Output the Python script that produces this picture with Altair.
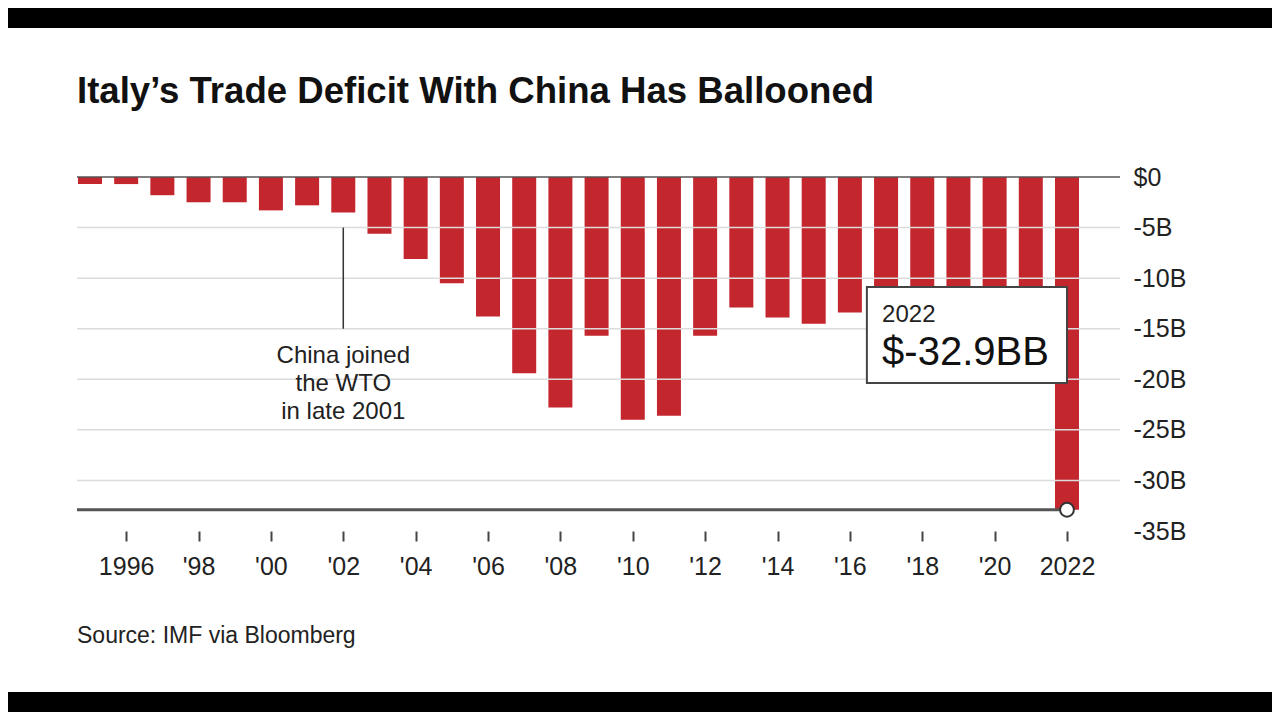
import altair as alt
import pandas as pd

# ---- data ----
years = list(range(1995, 2023))
balance = [-0.7, -0.7, -1.8, -2.5, -2.5, -3.3, -2.8, -3.5, -5.6, -8.1,
           -10.5, -13.8, -19.4, -22.8, -15.7, -24.0, -23.6, -15.7, -12.9, -13.9,
           -14.5, -13.4, -14.3, -15.6, -14.8, -13.4, -17.1, -32.9]
y_ticks = [0, -5, -10, -15, -20, -25, -30, -35]
grid_vals = [-5, -10, -15, -20, -25, -30]
x_ticks = list(range(1996, 2023, 2))
title_text = "Italy’s Trade Deficit With China Has Ballooned"
source_text = "Source: IMF via Bloomberg"
wto_year = 2002
wto_span = [-5, -15]
wto_note = "China joined\nthe WTO\nin late 2001"

df = pd.DataFrame({"year": years, "balance": balance})
last = df[df["year"] == max(years)].copy()
last["ylabel"] = last["year"].astype(str)
last["vlabel"] = last["balance"].map(lambda v: f"${v:.1f}BB")
grid_df = pd.DataFrame({"g": grid_vals})

FONT = "Liberation Sans"
RED = "#c4262e"
W, H = 1043, 354

xs = alt.Scale(domain=[1994.641, 2023.465], nice=False, zero=False, padding=0)
ys = alt.Scale(domain=[-35, 0], nice=False, zero=False)

label_expr = ("(datum.value == 1996 || datum.value == 2022) ? '' + datum.value : "
              "\"'\" + substring('' + datum.value, 2, 4)")

x_axis = alt.Axis(values=x_ticks, labelExpr=label_expr, grid=False, domain=False,
                  tickColor="#444", tickSize=10, tickWidth=2,
                  labelFont=FONT, labelFontSize=25, labelColor="#222",
                  labelPadding=13, labelOverlap=False, labelFlush=False, title=None)
y_axis = alt.Axis(orient="right", values=y_ticks,
                  labelExpr="datum.value == 0 ? '$0' : datum.value + 'B'",
                  domain=False, ticks=False, grid=False,
                  labelFont=FONT, labelFontSize=25, labelColor="#222",
                  labelAlign="left", labelBaseline="middle", labelPadding=13,
                  title=None)

one = pd.DataFrame({"k": [0]})

bars = alt.Chart(df).mark_bar(color=RED, size=24).encode(
    x=alt.X("year:Q", scale=xs, axis=x_axis),
    y=alt.Y("balance:Q", scale=ys, axis=y_axis),
)

grid = alt.Chart(grid_df).mark_rule(color="#dcdcdc", strokeWidth=1.5).encode(
    y=alt.Y("g:Q", scale=ys, axis=y_axis))

zero_rule = alt.Chart(one).mark_rule(color="#555", strokeWidth=1.5).encode(
    y=alt.YDatum(0, scale=ys, axis=y_axis))

last_rule = alt.Chart(last).mark_rule(color="#555", strokeWidth=3).encode(
    x=alt.X("year:Q", scale=xs, axis=x_axis), x2=alt.value(0),
    y=alt.Y("balance:Q", scale=ys, axis=y_axis))

dot = alt.Chart(last).mark_circle(fill="white", stroke="#333", strokeWidth=2,
                                  size=190, opacity=1).encode(
    x=alt.X("year:Q", scale=xs, axis=x_axis),
    y=alt.Y("balance:Q", scale=ys, axis=y_axis))

box = alt.Chart(last).mark_rect(fill="white", stroke="#444", strokeWidth=2).encode(
    x=alt.XDatum(2016.47, scale=xs, axis=x_axis), x2=alt.X2Datum(2022.0),
    y=alt.YDatum(-10.88, scale=ys, axis=y_axis), y2=alt.Y2Datum(-20.37))

box_year = alt.Chart(last).mark_text(font=FONT, fontSize=24, color="#222",
                                     align="left", baseline="alphabetic").encode(
    x=alt.XDatum(2016.89, scale=xs, axis=x_axis),
    y=alt.YDatum(-14.34, scale=ys, axis=y_axis), text="ylabel:N")

box_val = alt.Chart(last).mark_text(font=FONT, fontSize=40, color="#111",
                                    align="left", baseline="alphabetic").encode(
    x=alt.XDatum(2016.89, scale=xs, axis=x_axis),
    y=alt.YDatum(-18.59, scale=ys, axis=y_axis), text="vlabel:N")

wto_rule = alt.Chart(one).mark_rule(color="#333", strokeWidth=1.5).encode(
    x=alt.XDatum(wto_year, scale=xs, axis=x_axis),
    y=alt.YDatum(wto_span[0], scale=ys, axis=y_axis), y2=alt.Y2Datum(wto_span[1]))

wto_text = alt.Chart(one).mark_text(font=FONT, fontSize=24, color="#222", align="center",
                                    baseline="alphabetic", lineBreak="\n",
                                    lineHeight=28).encode(
    x=alt.XDatum(wto_year, scale=xs, axis=x_axis),
    y=alt.YDatum(-18.4, scale=ys, axis=y_axis), text=alt.value(wto_note))

title = alt.Chart(one).mark_text(font=FONT, fontSize=36.6, fontWeight="bold", color="#111",
                                 align="left", baseline="alphabetic").encode(
    x=alt.value(0), y=alt.value(-74), text=alt.value(title_text))

source = alt.Chart(one).mark_text(font=FONT, fontSize=23, color="#222", align="left",
                                  baseline="middle").encode(
    x=alt.value(0), y=alt.value(459), text=alt.value(source_text))

# letterbox bands of the video frame
top_band = alt.Chart(one).mark_rect(color="black").encode(
    x=alt.value(-69), x2=alt.value(1195), y=alt.value(-169), y2=alt.value(-149))
bot_band = alt.Chart(one).mark_rect(color="black").encode(
    x=alt.value(-69), x2=alt.value(1195), y=alt.value(515), y2=alt.value(535))

chart = alt.layer(
    bars, grid, zero_rule, last_rule, dot, box, box_year, box_val,
    wto_rule, wto_text, title, source, top_band, bot_band
).properties(
    width=W, height=H,
    padding={"left": 69, "top": 169, "right": 152, "bottom": 181},
    autosize=alt.AutoSizeParams(type="none"),
    background="white",
).configure_view(stroke=None)

chart.save("out.html", embed_options={"renderer": "svg", "actions": False})
